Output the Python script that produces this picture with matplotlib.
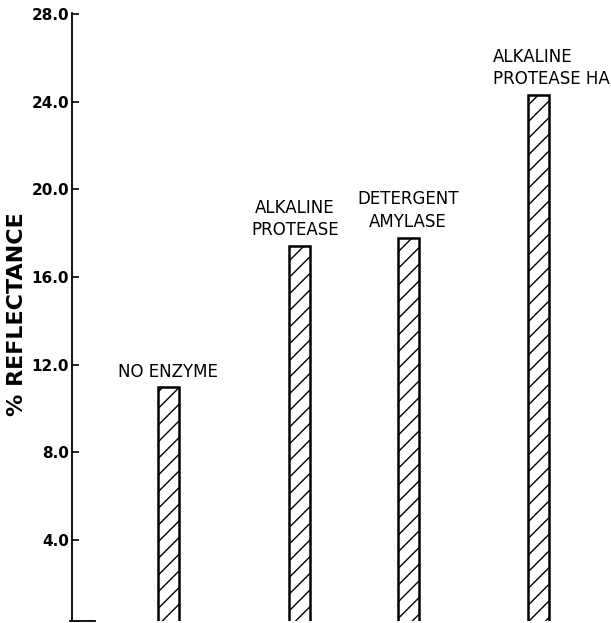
import matplotlib
matplotlib.use("Agg")
import matplotlib.pyplot as plt

# Data
categories = ["NO ENZYME", "ALKALINE\nPROTEASE", "DETERGENT\nAMYLASE", "ALKALINE\nPROTEASE HA"]
values = [11.0, 17.4, 17.8, 24.3]
yticks = [4.0, 8.0, 12.0, 16.0, 20.0, 24.0, 28.0]
ytick_labels = ["4.0", "8.0", "12.0", "16.0", "20.0", "24.0", "28.0"]
ylabel = "% REFLECTANCE"

# Layout (hand-drawn spacing of the original)
positions = [96, 227, 336, 466]
bar_width = 21

plt.rcParams['hatch.linewidth'] = 1.0
fig = plt.figure(figsize=(6.11, 6.23), dpi=100)
ax = fig.add_axes([72/611, 2/623, (611-72)/611, (621-12.5)/623])

bars = ax.bar(positions, values, width=bar_width, color="white",
              edgecolor="black", linewidth=1.8, hatch="//")

ax.set_xlim(0, 539)
ax.set_ylim(0.3, 28.08)

for s in ["top", "right"]:
    ax.spines[s].set_visible(False)
ax.spines["left"].set_linewidth(1.3)
ax.spines["bottom"].set_linewidth(1.3)
ax.spines["bottom"].set_bounds(-2, 23)
ax.set_xticks([])

ax.set_yticks(yticks)
ax.set_yticklabels(ytick_labels, fontsize=11)
for t in ax.get_yticklabels():
    t.set_fontweight("semibold")
ax.tick_params(axis="y", direction="in", length=5, width=1.2, pad=2)

ax.set_ylabel(ylabel, fontsize=16, fontweight="bold")
ax.yaxis.set_label_coords(-45/539, 0.505)

offsets = [(0, 6), (-4, 7), (0, 7), (-45, 7)]
has = ["center", "center", "center", "left"]
for x, v, lab, off, ha in zip(positions, values, categories, offsets, has):
    ax.annotate(lab, xy=(x, v), xytext=off, textcoords="offset pixels",
                ha=ha, va="bottom", fontsize=12, linespacing=1.3,
                multialignment="left" if ha == "left" else "center")

fig.savefig("out.png", dpi=100)
